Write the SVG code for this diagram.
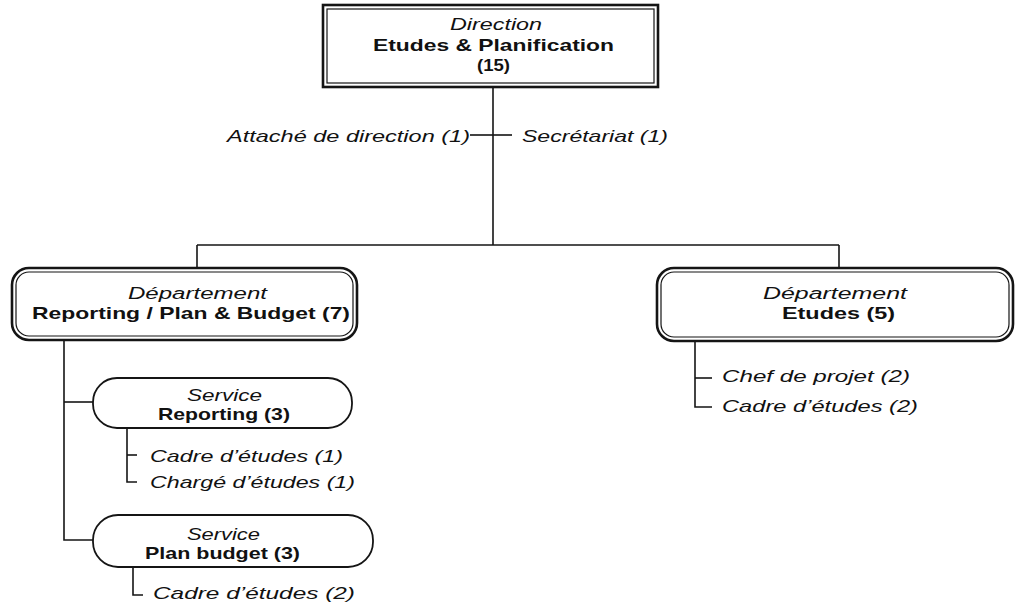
<svg xmlns="http://www.w3.org/2000/svg" width="1018" height="607" viewBox="0 0 1018 607">
  <style>
    .bg { fill: #ffffff; }
    .frame-outer { fill: #ffffff; stroke: #151515; stroke-width: 2.6; }
    .frame-inner { fill: none; stroke: #151515; stroke-width: 1.2; }
    .pill { fill: #ffffff; stroke: #151515; stroke-width: 1.8; }
    .link { fill: none; stroke: #151515; stroke-width: 1.6; }
    text { font-family: "Liberation Sans", Arial, sans-serif; fill: #111111; }
    .kind { font-style: italic; font-size: 16px; }
    .name { font-weight: bold; font-size: 17px; }
    .staff { font-style: italic; font-size: 17px; }
  </style>

  <rect class="bg" x="0" y="0" width="1018" height="607"/>

  <!-- connectors -->
  <g id="connectors">
    <!-- direction trunk and split bar -->
    <path class="link" d="M493,87 V245"/>
    <path class="link" d="M197,245 H839"/>
    <path class="link" d="M197,245 V268"/>
    <path class="link" d="M839,245 V268"/>
    <!-- attached staff ticks -->
    <path class="link" d="M470,135 H493"/>
    <path class="link" d="M493,135 H512"/>
    <!-- department reporting / plan & budget to its services -->
    <path class="link" d="M64,340 V540 H93"/>
    <path class="link" d="M64,402 H93"/>
    <!-- service reporting staff -->
    <path class="link" d="M127,428 V482 H137"/>
    <path class="link" d="M127,455 H137"/>
    <!-- service plan budget staff -->
    <path class="link" d="M133,567 V595 H143"/>
    <!-- department etudes staff -->
    <path class="link" d="M695,341 V407 H712"/>
    <path class="link" d="M695,378 H712"/>
  </g>

  <!-- top: Direction Etudes & Planification -->
  <g id="direction">
    <rect class="frame-outer" x="323" y="5" width="335" height="82"/>
    <rect class="frame-inner" x="327" y="9" width="327" height="74"/>
    <text class="kind" x="450" y="30" textLength="92" lengthAdjust="spacingAndGlyphs">Direction</text>
    <text class="name" x="373" y="51" textLength="241" lengthAdjust="spacingAndGlyphs">Etudes &amp; Planification</text>
    <text class="name" x="477" y="71" textLength="33" lengthAdjust="spacingAndGlyphs">(15)</text>
  </g>

  <g id="attache-direction">
    <text class="staff" x="227" y="142" textLength="243" lengthAdjust="spacingAndGlyphs">Attaché de direction (1)</text>
  </g>
  <g id="secretariat">
    <text class="staff" x="522" y="142" textLength="146" lengthAdjust="spacingAndGlyphs">Secrétariat (1)</text>
  </g>

  <!-- department: Reporting / Plan & Budget -->
  <g id="dept-reporting-plan-budget">
    <rect class="frame-outer" x="12" y="268" width="345" height="72" rx="17" ry="17"/>
    <rect class="frame-inner" x="16" y="272" width="337" height="64" rx="13" ry="13"/>
    <text class="kind" x="128" y="299" textLength="139" lengthAdjust="spacingAndGlyphs">Département</text>
    <text class="name" x="32" y="319" textLength="318" lengthAdjust="spacingAndGlyphs">Reporting / Plan &amp; Budget (7)</text>
  </g>

  <!-- department: Etudes -->
  <g id="dept-etudes">
    <rect class="frame-outer" x="657" y="268" width="356" height="73" rx="17" ry="17"/>
    <rect class="frame-inner" x="661" y="272" width="348" height="65" rx="13" ry="13"/>
    <text class="kind" x="763" y="299" textLength="144" lengthAdjust="spacingAndGlyphs">Département</text>
    <text class="name" x="782" y="319" textLength="113" lengthAdjust="spacingAndGlyphs">Etudes (5)</text>
  </g>

  <g id="etudes-staff">
    <text class="staff" x="722" y="382" textLength="188" lengthAdjust="spacingAndGlyphs">Chef de projet (2)</text>
    <text class="staff" x="722" y="412" textLength="196" lengthAdjust="spacingAndGlyphs">Cadre d’études (2)</text>
  </g>

  <!-- service: Reporting -->
  <g id="service-reporting">
    <rect class="pill" x="93" y="378" width="259" height="50" rx="24" ry="24"/>
    <text class="kind" x="187" y="401" textLength="75" lengthAdjust="spacingAndGlyphs">Service</text>
    <text class="name" x="158" y="420" font-size="16" textLength="132" lengthAdjust="spacingAndGlyphs">Reporting (3)</text>
  </g>

  <g id="reporting-staff">
    <text class="staff" x="150" y="462" textLength="193" lengthAdjust="spacingAndGlyphs">Cadre d’études (1)</text>
    <text class="staff" x="150" y="488" textLength="205" lengthAdjust="spacingAndGlyphs">Chargé d’études (1)</text>
  </g>

  <!-- service: Plan budget -->
  <g id="service-plan-budget">
    <rect class="pill" x="93" y="515" width="280" height="52" rx="25" ry="25"/>
    <text class="kind" x="187" y="540" textLength="73" lengthAdjust="spacingAndGlyphs">Service</text>
    <text class="name" x="145" y="559" font-size="16" textLength="155" lengthAdjust="spacingAndGlyphs">Plan budget (3)</text>
  </g>

  <g id="plan-budget-staff">
    <text class="staff" x="153" y="599" textLength="202" lengthAdjust="spacingAndGlyphs">Cadre d’études (2)</text>
  </g>
</svg>
